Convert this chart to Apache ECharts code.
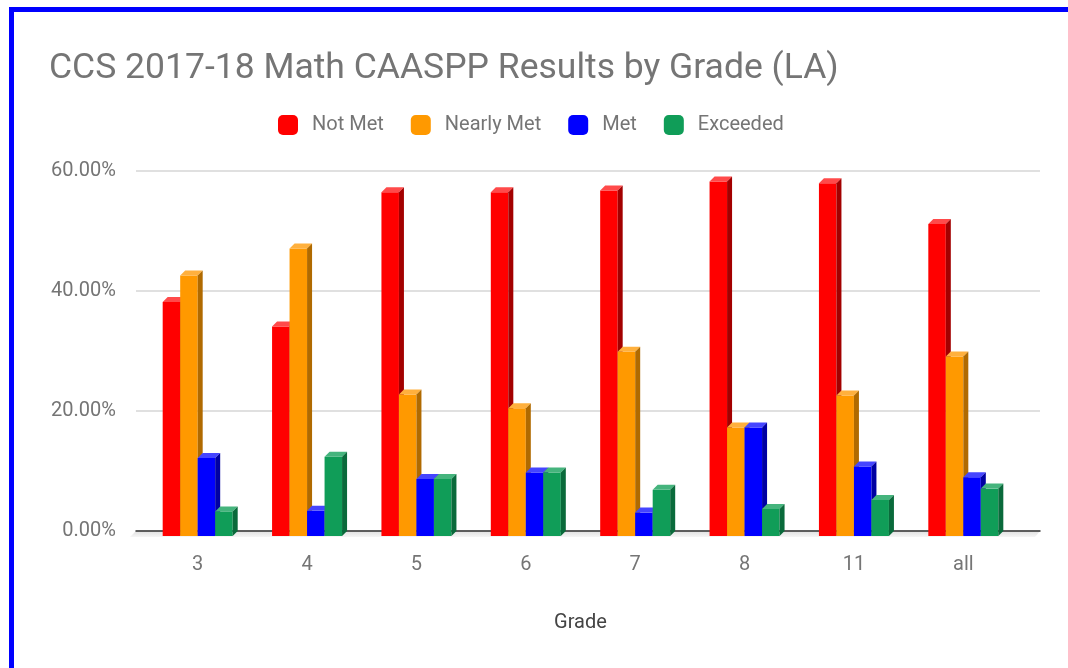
<!DOCTYPE html>
<html>
<head>
<meta charset="utf-8">
<script src="https://cdn.jsdelivr.net/npm/echarts@6/dist/echarts.min.js"></script>
<style>
  html, body { margin: 0; padding: 0; background: #fff; overflow: hidden; }
  .frame {
    position: absolute; left: 9px; top: 7px; width: 1200px; height: 800px;
    border: 5px solid #0000ff; box-sizing: border-box;
  }
  #main { position: absolute; left: 0; top: 0; width: 1068px; height: 668px; }
</style>
</head>
<body>
<div class="frame"></div>
<div id="main"></div>
<script>
// chart data
const grades = ['3', '4', '5', '6', '7', '8', '11', 'all'];
const notMet = [39.0, 34.9, 57.3, 57.3, 57.6, 59.1, 58.8, 52.0];
const nearlyMet = [43.4, 47.9, 23.6, 21.3, 30.7, 18.1, 23.4, 29.9];
const met = [13.0, 4.2, 9.5, 10.6, 3.9, 18.1, 11.6, 9.8];
const exceeded = [4.1, 13.2, 9.5, 10.6, 7.7, 4.5, 6.0, 7.9];
const yTicks = [0, 20, 40, 60];

const seriesDefs = [
  { name: 'Not Met', values: notMet, front: '#ff0000', top: '#ff4a4a', side: '#a30000' },
  { name: 'Nearly Met', values: nearlyMet, front: '#ff9900', top: '#ffb03d', side: '#b06a00' },
  { name: 'Met', values: met, front: '#0000ff', top: '#4545ff', side: '#0000a3' },
  { name: 'Exceeded', values: exceeded, front: '#109d58', top: '#45b47d', side: '#0a6a3b' }
];

const DEPTH = 5;
const textColor = '#757575';
const fontFamily = 'Roboto, "Noto Sans", sans-serif';

// front face + top + side, so the bars look like the 3D original
function bar3d(def, idx) {
  return function (params, api) {
    const cat = api.value(0);
    const val = api.value(1);
    const top = api.coord([cat, val]);
    const base = api.coord([cat, 0]);
    const band = api.size([1, 0])[0];
    const w = band * 0.16;
    const x = top[0] - 2 * w + idx * w;
    const y = top[1];
    const b = base[1];
    return {
      type: 'group',
      children: [
        { type: 'rect', shape: { x: x, y: y, width: w, height: b - y },
          style: { fill: def.front } },
        { type: 'polygon',
          shape: { points: [[x, y], [x + DEPTH, y - DEPTH], [x + w + DEPTH, y - DEPTH], [x + w, y]] },
          style: { fill: def.top } },
        { type: 'polygon',
          shape: { points: [[x + w, y], [x + w + DEPTH, y - DEPTH], [x + w + DEPTH, b - DEPTH], [x + w, b]] },
          style: { fill: def.side } }
      ]
    };
  };
}

const chart = echarts.init(document.getElementById('main'));

const option = {
  animation: false,
  title: {
    text: 'CCS 2017-18 Math CAASPP Results by Grade (LA)',
    left: 44,
    top: 46,
    textStyle: { color: textColor, fontSize: 35.5, fontWeight: 'normal', fontFamily: fontFamily }
  },
  legend: {
    left: 273,
    top: 110,
    icon: 'roundRect',
    itemWidth: 20,
    itemHeight: 20,
    itemGap: 27,
    data: seriesDefs.map(d => d.name),
    textStyle: { color: textColor, fontSize: 20, fontFamily: fontFamily, padding: [0, 0, 0, 9] }
  },
  graphic: [
    {
      type: 'polygon',
      z: 0,
      shape: { points: [[136, 531], [1040, 531], [1035, 537], [130, 537]] },
      style: {
        fill: new echarts.graphic.LinearGradient(0, 0, 0, 1, [
          { offset: 0, color: '#e0e0e0' },
          { offset: 1, color: '#f6f6f6' }
        ])
      }
    }
  ],
  grid: [
    { left: 136, right: 28, top: 171, bottom: 137 },
    { left: 143, right: 50, top: 176, bottom: 132 }
  ],
  xAxis: [
    {
      type: 'category', gridIndex: 0, data: grades,
      axisLine: { lineStyle: { color: '#333', width: 1.5 } },
      axisTick: { show: false }, axisLabel: { show: false }
    },
    {
      type: 'category', gridIndex: 1, data: grades,
      axisLine: { show: false }, axisTick: { show: false },
      axisLabel: { color: textColor, fontSize: 20, fontFamily: fontFamily, margin: 19 },
      name: 'Grade', nameLocation: 'middle', nameGap: 77,
      nameTextStyle: { color: '#444', fontSize: 20, fontFamily: fontFamily }
    }
  ],
  yAxis: [
    {
      type: 'value', gridIndex: 0, min: yTicks[0], max: yTicks[yTicks.length - 1], interval: 20,
      axisLine: { show: false }, axisTick: { show: false },
      axisLabel: { color: textColor, fontSize: 20, fontFamily: fontFamily, margin: 20,
        formatter: v => v.toFixed(2) + '%' },
      splitLine: { lineStyle: { color: '#d6d6d6', width: 1.5 } }
    },
    {
      type: 'value', gridIndex: 1, min: yTicks[0], max: yTicks[yTicks.length - 1], interval: 20,
      show: false, splitLine: { show: false }
    }
  ],
  series: seriesDefs.map((d, i) => ({
    name: d.name,
    type: 'custom',
    xAxisIndex: 1,
    yAxisIndex: 1,
    z: 2 + i,
    itemStyle: { color: d.front },
    renderItem: bar3d(d, i),
    encode: { x: 0, y: 1 },
    data: d.values.map((v, k) => [k, v])
  }))
};

chart.setOption(option);
</script>
</body>
</html>
